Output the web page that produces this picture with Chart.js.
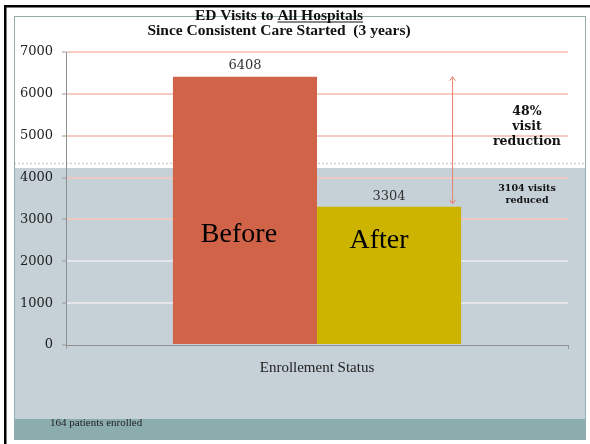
<!DOCTYPE html>
<html>
<head>
<meta charset="utf-8">
<script src="https://cdn.jsdelivr.net/npm/chart.js@4"></script>
<style>
  html, body { margin: 0; padding: 0; background: #fff; }
  canvas { display: block; }
</style>
</head>
<body>
<canvas id="chart" width="590" height="444"></canvas>
<script>
// Chart data
const categories = ['Enrollement Status'];
const seriesNames = ['Before', 'After'];
const beforeValues = [6408];
const afterValues = [3304];
const yTicks = [0, 1000, 2000, 3000, 4000, 5000, 6000, 7000];
const titleStart = 'ED Visits to ';
const titleUnderlined = 'All Hospitals';
const titleLine2 = 'Since Consistent Care Started  (3 years)';
const enrolledNote = '164 patients enrolled';

const SERIF = "'Liberation Serif', 'Times New Roman', serif";
const GEORGIA = "Georgia, 'DejaVu Serif', serif";

// Slide background, title and callouts
const slidePlugin = {
  id: 'slide',
  beforeDraw(chart) {
    const ctx = chart.ctx;
    ctx.save();
    ctx.fillStyle = '#ffffff';
    ctx.fillRect(0, 0, 590, 444);
    // grey lower band + teal footer
    ctx.fillStyle = '#c5d1d7';
    ctx.fillRect(14, 168, 571, 251);
    ctx.fillStyle = '#8cadae';
    ctx.fillRect(14, 419, 571, 20);
    // dotted divider
    ctx.strokeStyle = '#cfcfcf';
    ctx.lineWidth = 1.5;
    ctx.setLineDash([2, 2]);
    ctx.beginPath();
    ctx.moveTo(14, 163.5);
    ctx.lineTo(585, 163.5);
    ctx.stroke();
    ctx.setLineDash([]);
    // frame
    ctx.strokeStyle = '#93adad';
    ctx.lineWidth = 1;
    ctx.strokeRect(14.5, 16.5, 571, 423);
    // black outer edges
    ctx.fillStyle = '#000';
    ctx.fillRect(4, 5, 586, 2.5);
    ctx.fillRect(4, 5, 2.5, 439);
    ctx.restore();
  },
  afterDatasetsDraw(chart) {
    const ctx = chart.ctx;
    const y = chart.scales.y;
    const before = chart.getDatasetMeta(0).data[0];
    const after = chart.getDatasetMeta(1).data[0];
    ctx.save();
    ctx.textBaseline = 'middle';
    ctx.fillStyle = '#111';

    // title
    ctx.font = 'bold 15.5px ' + SERIF;
    const w1 = ctx.measureText(titleStart).width;
    const w2 = ctx.measureText(titleUnderlined).width;
    const cx = 279;
    let x0 = cx - (w1 + w2) / 2;
    ctx.textAlign = 'left';
    ctx.fillText(titleStart, x0, 16);
    ctx.fillText(titleUnderlined, x0 + w1, 16);
    ctx.fillRect(x0 + w1, 21.5, w2, 1);
    ctx.textAlign = 'center';
    ctx.fillText(titleLine2, cx, 31);

    // value labels
    ctx.font = '13px ' + GEORGIA;
    ctx.fillStyle = '#333';
    ctx.fillText(String(beforeValues[0]), before.x, before.y - 11);
    ctx.fillText(String(afterValues[0]), after.x, after.y - 10);

    // big bar names
    ctx.font = '28px ' + SERIF;
    ctx.fillStyle = '#000';
    ctx.fillText(seriesNames[0], before.x - 6, 235);
    ctx.fillText(seriesNames[1], after.x - 10, 241);

    // double arrow between the two values
    const ax = after.x + after.width / 2 - 8.5;
    const yTop = y.getPixelForValue(beforeValues[0]);
    const yBot = y.getPixelForValue(afterValues[0]) - 3;
    ctx.strokeStyle = '#e8806c';
    ctx.lineWidth = 1;
    ctx.beginPath();
    ctx.moveTo(ax, yTop);
    ctx.lineTo(ax, yBot);
    ctx.moveTo(ax - 3, yTop + 4);
    ctx.lineTo(ax, yTop);
    ctx.lineTo(ax + 3, yTop + 4);
    ctx.moveTo(ax - 3, yBot - 4);
    ctx.lineTo(ax, yBot);
    ctx.lineTo(ax + 3, yBot - 4);
    ctx.stroke();

    // callout texts
    const diff = beforeValues[0] - afterValues[0];
    const pct = Math.round(diff / beforeValues[0] * 100);
    ctx.fillStyle = '#111';
    ctx.font = 'bold 12.5px ' + GEORGIA;
    ctx.fillText(pct + '%', 527, 112);
    ctx.fillText('visit', 527, 127);
    ctx.fillText('reduction', 527, 142);
    ctx.font = 'bold 9.5px ' + GEORGIA;
    ctx.fillText(diff + ' visits', 527, 189);
    ctx.fillText('reduced', 527, 201);

    // footer note
    ctx.textAlign = 'left';
    ctx.font = '11px ' + SERIF;
    ctx.fillStyle = '#222';
    ctx.fillText(enrolledNote, 50, 423);
    ctx.restore();
  }
};

function gridColor(ctx) {
  const v = ctx.tick && ctx.tick.value;
  if (v === 0) return 'rgba(0,0,0,0)';
  if (v >= 5000) return '#f8cbc2';
  if (v >= 3000) return '#efc7c3';
  return '#e4e6ea';
}

new Chart(document.getElementById('chart'), {
  type: 'bar',
  data: {
    labels: categories,
    datasets: [
      { label: seriesNames[0], data: beforeValues, backgroundColor: '#d16349', borderWidth: 0 },
      { label: seriesNames[1], data: afterValues, backgroundColor: '#ccb400', borderWidth: 0 }
    ]
  },
  options: {
    responsive: false,
    animation: false,
    devicePixelRatio: 1,
    layout: { padding: { top: 52, left: 0, right: 22, bottom: 59 } },
    datasets: { bar: { categoryPercentage: 0.574, barPercentage: 1 } },
    plugins: {
      legend: { display: false },
      title: { display: false },
      tooltip: { enabled: false }
    },
    scales: {
      x: {
        afterFit: s => { s.height = 40; },
        border: { display: true, color: '#8f8f8f', width: 1 },
        grid: { display: true, drawOnChartArea: false, offset: true, tickLength: 4, color: '#9a9a9a' },
        ticks: { padding: 10, color: '#222', font: { family: SERIF, size: 15 } }
      },
      y: {
        min: yTicks[0],
        max: yTicks[yTicks.length - 1],
        afterFit: s => { s.width = 66; },
        afterBuildTicks: s => { s.ticks = yTicks.map(v => ({ value: v })); },
        border: { display: true, color: '#8f8f8f', width: 1 },
        grid: { color: gridColor, lineWidth: 2, tickLength: 4, tickColor: '#9a9a9a', tickWidth: 1 },
        ticks: {
          padding: 9,
          color: '#222',
          font: { family: GEORGIA, size: 13 },
          callback: v => String(v)
        }
      }
    }
  },
  plugins: [slidePlugin]
});
</script>
</body>
</html>
